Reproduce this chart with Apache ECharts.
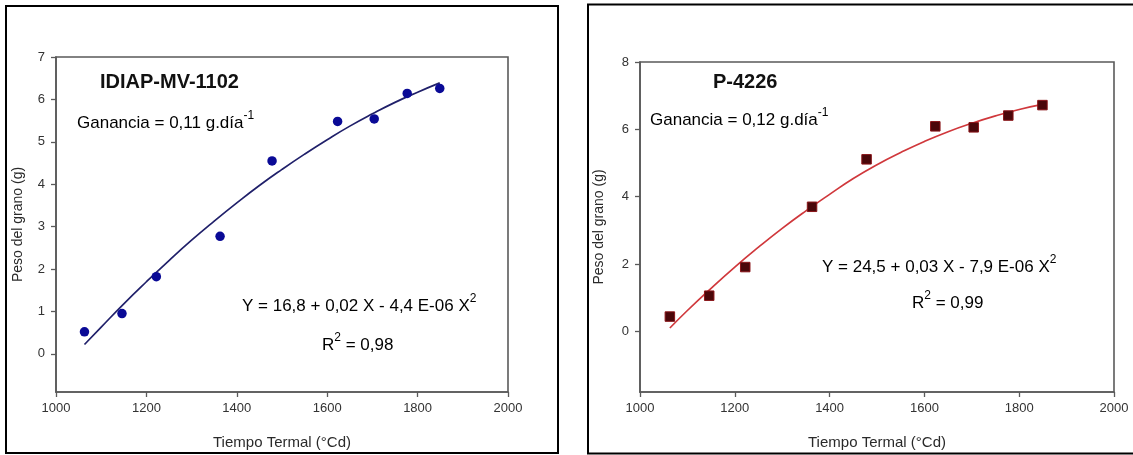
<!DOCTYPE html>
<html>
<head>
<meta charset="utf-8">
<script src="https://cdn.jsdelivr.net/npm/echarts@6/dist/echarts.min.js"></script>
<style>
html,body{margin:0;padding:0;background:#fff;}
#chart{width:1133px;height:455px;}
</style>
</head>
<body>
<div id="chart"></div>
<script>
// ---- data ----
const tiempoTermal = [1063, 1146, 1222, 1363, 1478, 1623, 1704, 1777, 1849];
const pesoIDIAP = [0.52, 0.95, 1.82, 2.77, 4.55, 5.48, 5.54, 6.14, 6.26];
const pesoP4226 = [0.44, 1.06, 1.91, 3.70, 5.11, 6.09, 6.06, 6.41, 6.72];

const curvaX = [1063, 1100, 1150, 1200, 1250, 1300, 1350, 1400, 1450, 1500, 1550, 1600, 1650, 1700, 1750, 1800, 1849];
const curvaIDIAP = [0.22, 0.63, 1.18, 1.70, 2.20, 2.68, 3.13, 3.56, 3.97, 4.35, 4.71, 5.05, 5.37, 5.66, 5.93, 6.17, 6.39];
const curvaP4226 = [0.10, 0.62, 1.28, 1.91, 2.50, 3.06, 3.58, 4.07, 4.54, 4.95, 5.31, 5.64, 5.93, 6.18, 6.40, 6.59, 6.74];

const xTicks = [1000, 1200, 1400, 1600, 1800, 2000];
const yTicksIDIAP = [0, 1, 2, 3, 4, 5, 6, 7];
const yTicksP4226 = [0, 2, 4, 6, 8];

const etiquetas = {
  izq: { titulo: 'IDIAP-MV-1102', ganancia: 'Ganancia = 0,11 g.día', ecuacion: 'Y = 16,8 + 0,02 X - 4,4 E-06 X', r2: '= 0,98' },
  der: { titulo: 'P-4226', ganancia: 'Ganancia = 0,12 g.día', ecuacion: 'Y = 24,5 + 0,03 X - 7,9 E-06 X', r2: '= 0,99' }
};
const xName = 'Tiempo Termal (°Cd)';
const yName = 'Peso del grano (g)';

// ---- chart ----
const FONT = 'Liberation Sans, Arial, sans-serif';
const axisColor = '#5a5a5a';
const txtColor = '#2a2a2a';

function pairs(xs, ys) { return xs.map((x, i) => [x, ys[i]]); }

function xAxisCfg(gi) {
  return {
    type: 'value', gridIndex: gi, min: 1000, max: 2000, interval: 200,
    name: xName, nameLocation: 'middle', nameGap: 43,
    nameTextStyle: { fontFamily: FONT, fontSize: 15, color: txtColor },
    axisLine: { show: true, onZero: false, lineStyle: { color: axisColor, width: 1.6 } },
    axisTick: { show: true, inside: false, length: 5, lineStyle: { color: axisColor, width: 1.3 }, customValues: xTicks },
    axisLabel: { fontFamily: FONT, fontSize: 13, color: '#333', margin: 10, customValues: xTicks, formatter: v => String(v) },
    splitLine: { show: false }
  };
}
function yAxisCfg(gi, min, max, ticks, gap) {
  return {
    type: 'value', gridIndex: gi, min: min, max: max,
    name: yName, nameLocation: 'middle', nameGap: gap,
    nameTextStyle: { fontFamily: FONT, fontSize: 14, color: txtColor },
    axisLine: { show: true, onZero: false, lineStyle: { color: axisColor, width: 1.6 } },
    axisTick: { show: true, inside: false, length: 5, lineStyle: { color: axisColor, width: 1.3 }, customValues: ticks },
    axisLabel: { fontFamily: FONT, fontSize: 13, color: '#333', margin: 11, customValues: ticks, formatter: v => String(v) },
    splitLine: { show: false }
  };
}

function richText(x, y, main, sup, size) {
  return {
    type: 'text', x: x, y: y, z: 10,
    style: {
      text: '{m|' + main + '}{s|' + sup + '}',
      textVerticalAlign: 'middle',
      rich: {
        m: { fontFamily: FONT, fontSize: size, color: txtColor, lineHeight: 22, verticalAlign: 'bottom' },
        s: { fontFamily: FONT, fontSize: Math.round(size * 0.72), color: txtColor, lineHeight: 22, verticalAlign: 'top', padding: [0, 0, 6, 0] }
      }
    }
  };
}
function plainText(x, y, text, size, bold) {
  return {
    type: 'text', x: x, y: y, z: 10,
    style: { text: text, fontFamily: FONT, fontSize: size, fontWeight: bold ? 'bold' : 'normal', fill: bold ? '#111' : txtColor, textVerticalAlign: 'middle' }
  };
}
function r2Text(x, y, rest, size) {
  return {
    type: 'text', x: x, y: y, z: 10,
    style: {
      text: '{m|R}{s|2}{m| ' + rest + '}',
      textVerticalAlign: 'middle',
      rich: {
        m: { fontFamily: FONT, fontSize: size, color: txtColor, lineHeight: 22, verticalAlign: 'bottom' },
        s: { fontFamily: FONT, fontSize: Math.round(size * 0.72), color: txtColor, lineHeight: 22, verticalAlign: 'top', padding: [0, 0, 6, 0] }
      }
    }
  };
}

const chart = echarts.init(document.getElementById('chart'), null, { renderer: 'canvas' });
chart.setOption({
  backgroundColor: '#ffffff',
  animation: false,
  grid: [
    { left: 56, top: 57, width: 452, height: 340, show: true, borderColor: axisColor, borderWidth: 1.6, backgroundColor: 'transparent' },
    { left: 640, top: 62, width: 474, height: 335, show: true, borderColor: axisColor, borderWidth: 1.6, backgroundColor: 'transparent' }
  ],
  xAxis: [xAxisCfg(0), xAxisCfg(1)],
  yAxis: [yAxisCfg(0, -0.9, 7, yTicksIDIAP, 31), yAxisCfg(1, -1.8, 8, yTicksP4226, 34)],
  series: [
    { type: 'line', xAxisIndex: 0, yAxisIndex: 0, data: pairs(curvaX, curvaIDIAP), smooth: true, showSymbol: false,
      lineStyle: { color: '#20206a', width: 1.7 }, z: 2 },
    { type: 'scatter', xAxisIndex: 0, yAxisIndex: 0, data: pairs(tiempoTermal, pesoIDIAP), symbol: 'circle', symbolSize: 9.5,
      itemStyle: { color: '#0a0a96', opacity: 1 }, z: 3 },
    { type: 'line', xAxisIndex: 1, yAxisIndex: 1, data: pairs(curvaX, curvaP4226), smooth: true, showSymbol: false,
      lineStyle: { color: '#d0383c', width: 1.7 }, z: 2 },
    { type: 'scatter', xAxisIndex: 1, yAxisIndex: 1, data: pairs(tiempoTermal, pesoP4226), symbol: 'rect', symbolSize: 9.5,
      itemStyle: { color: '#4a070a', borderColor: '#8a1418', borderWidth: 1, opacity: 1 }, z: 3 }
  ],
  graphic: [
    { type: 'rect', shape: { x: 6, y: 6, width: 552, height: 447 }, style: { fill: 'none', stroke: '#000', lineWidth: 2 }, z: 0, silent: true },
    { type: 'rect', shape: { x: 588, y: 4.5, width: 560, height: 449 }, style: { fill: 'none', stroke: '#000', lineWidth: 2 }, z: 0, silent: true },
    plainText(100, 82, etiquetas.izq.titulo, 20, true),
    richText(77, 121, etiquetas.izq.ganancia, '-1', 17),
    richText(242, 304, etiquetas.izq.ecuacion, '2', 17),
    r2Text(322, 343, etiquetas.izq.r2, 17),
    plainText(713, 82, etiquetas.der.titulo, 20, true),
    richText(650, 118, etiquetas.der.ganancia, '-1', 17),
    richText(822, 265, etiquetas.der.ecuacion, '2', 17),
    r2Text(912, 301, etiquetas.der.r2, 17)
  ]
});
</script>
</body>
</html>
